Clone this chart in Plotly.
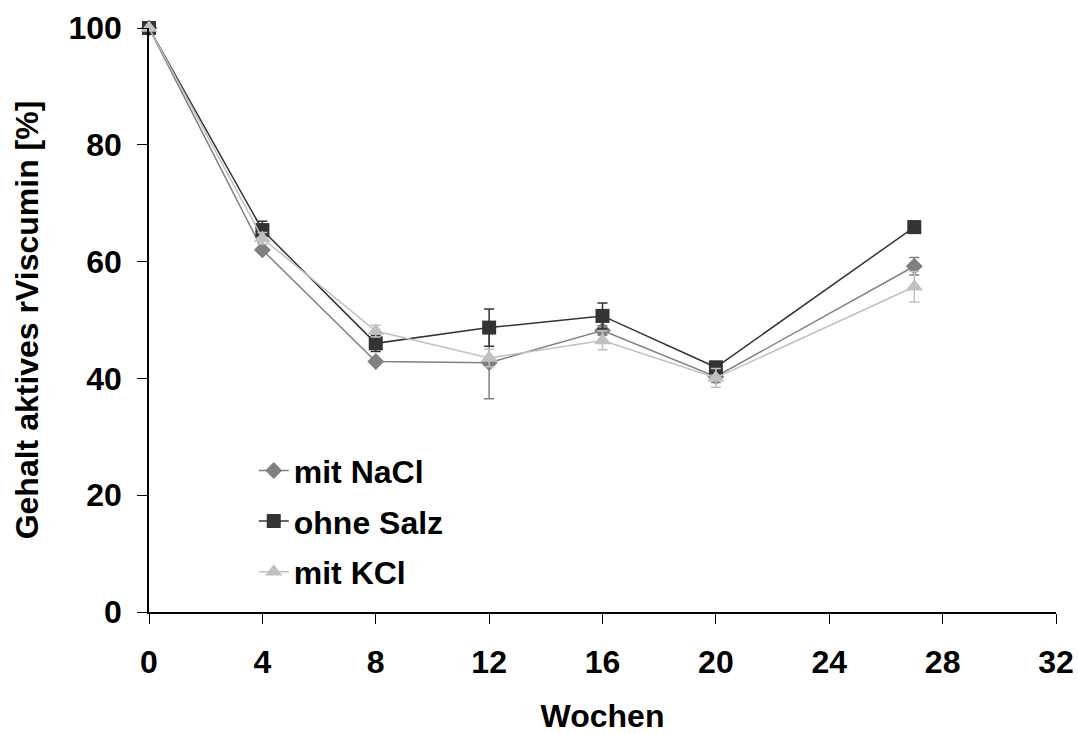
import plotly.graph_objects as go

weeks = [0, 4, 8, 12, 16, 20, 27]

nacl_vals = [100, 62.0, 42.9, 42.7, 48.2, 40.3, 59.2]
nacl_err = [0, 0.5, 0.5, 6.2, 0.8, 1.0, 1.5]

ohne_vals = [100, 65.4, 46.0, 48.7, 50.7, 41.9, 65.9]
ohne_err = [0, 1.5, 1.4, 3.2, 2.2, 0.8, 1.0]

kcl_vals = [100, 64.0, 48.1, 43.5, 46.5, 40.1, 55.7]
kcl_err = [0, 1.0, 1.0, 1.5, 1.6, 1.6, 2.6]

series = [
    ("mit NaCl", nacl_vals, nacl_err, "#808080", "diamond", 13),
    ("ohne Salz", ohne_vals, ohne_err, "#333333", "square", 14),
    ("mit KCl", kcl_vals, kcl_err, "#C0C0C0", "triangle-up", 15),
]

FONT = "Arial, 'Liberation Sans', sans-serif"
FS = 32

fig = go.Figure()
for i, (name, vals, err, col, sym, size) in enumerate(series):
    fig.add_trace(go.Scatter(
        x=weeks, y=vals, name=name, mode="lines+markers",
        line=dict(color=col, width=1.5),
        marker=dict(symbol=sym, size=size, color=col),
        error_y=dict(type="data", array=err, visible=True, color=col,
                     thickness=1.5, width=5),
        cliponaxis=False,
        legendgroup=f"g{i}",
    ))

fig.update_layout(
    width=1078, height=734,
    margin=dict(l=149, r=22, t=28, b=122, autoexpand=False),
    plot_bgcolor="white", paper_bgcolor="white",
    font=dict(family=FONT, size=FS, color="black"),
    showlegend=True,
    legend=dict(
        x=0.1155, y=0.289, xanchor="left", yanchor="top",
        font=dict(family=FONT, size=FS, color="black", weight="bold"),
        bgcolor="rgba(0,0,0,0)", traceorder="grouped", tracegroupgap=6,
    ),
    xaxis=dict(
        range=[0, 32], tickvals=[0, 4, 8, 12, 16, 20, 24, 28, 32],
        showgrid=False, zeroline=False, showline=True, linecolor="black",
        linewidth=1.5, ticks="outside", ticklen=10, tickcolor="black",
        tickwidth=1, ticklabelstandoff=11, automargin=False,
        tickfont=dict(family=FONT, size=FS, weight="bold"),
        title=dict(text="Wochen", font=dict(family=FONT, size=FS, weight="bold"),
                   standoff=51),
    ),
    yaxis=dict(
        range=[0, 100], tickvals=[0, 20, 40, 60, 80, 100],
        showgrid=False, zeroline=False, showline=True, linecolor="black",
        linewidth=1.5, ticks="outside", ticklen=10, tickcolor="black",
        tickwidth=1, ticklabelstandoff=9, automargin=False,
        tickfont=dict(family=FONT, size=FS, weight="bold"),
        title=dict(text="Gehalt aktives rViscumin [%]",
                   font=dict(family=FONT, size=FS, weight="bold"), standoff=20),
    ),
)

fig.write_html("out.html",
               config={"displayModeBar": False},
               post_script="document.body.style.margin='0px';")
